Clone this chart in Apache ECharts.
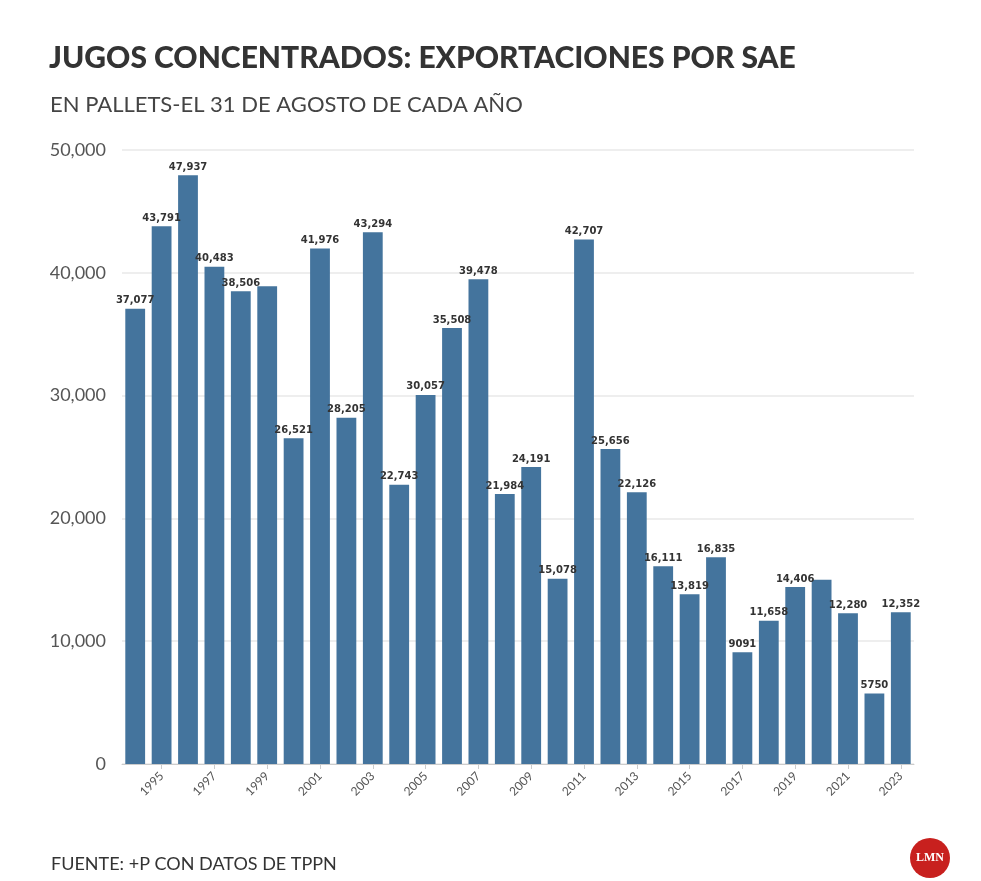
<!DOCTYPE html>
<html><head><meta charset="utf-8">
<script src="https://cdn.jsdelivr.net/npm/echarts@6/dist/echarts.min.js"></script>
<style>body{margin:0;background:#fff}#c{width:981px;height:881px}</style>
</head><body><div id="c"></div>
<script>
const years=[];for(let y=1994;y<=2023;y++)years.push(String(y));
const values=[37077,43791,47937,40483,38506,38900,26521,41976,28205,43294,22743,30057,35508,39478,21984,24191,15078,42707,25656,22126,16111,13819,16835,9091,11658,14406,15000,12280,5750,12352];
const hiddenLabels=['1999','2020'];
const fmt=v=>v<10000?String(v):v.toLocaleString('en-US');
const chart=echarts.init(document.getElementById('c'));
chart.setOption({
 animation:false,
 title:[
  {text:'JUGOS CONCENTRADOS: EXPORTACIONES POR SAE',left:44,top:38,textStyle:{fontFamily:'Lato',fontWeight:900,fontSize:30,color:'#333'}},
  {text:'EN PALLETS-EL 31 DE AGOSTO DE CADA AÑO',left:45,top:89,textStyle:{fontFamily:'Lato',fontWeight:'normal',fontSize:22,color:'#444'}},
  {text:'FUENTE: +P CON DATOS DE TPPN',left:46,top:850,textStyle:{fontFamily:'Lato',fontWeight:'normal',fontSize:18,color:'#333'}}
 ],
 graphic:[{type:'circle',shape:{cx:930,cy:858,r:20},style:{fill:'#c8201e'}},
  {type:'text',x:930,y:858,style:{text:'LMN',fill:'#fff',font:'bold 12px serif',align:'center',verticalAlign:'middle'}}],
 grid:{left:122,right:67,top:150,bottom:117},
 xAxis:{type:'category',data:years,
  axisLine:{lineStyle:{color:'#ccc'}},
  axisTick:{show:true,alignWithLabel:true,interval:(i)=>i%2===1,lineStyle:{color:'#ccc'}},
  axisLabel:{interval:(i)=>i%2===1,rotate:45,color:'#555',fontFamily:'Lato',fontSize:12,margin:10}},
 yAxis:{type:'value',min:0,max:50000,interval:10000,
  axisLabel:{formatter:v=>fmt(v),color:'#555',fontFamily:'Lato',fontSize:18,margin:16},
  splitLine:{lineStyle:{color:'#e8e8e8',width:1.5}},axisLine:{show:false},axisTick:{show:false}},
 series:[{type:'bar',barCategoryGap:'25%',
  data:values.map((v,i)=>({value:v,label:{show:!hiddenLabels.includes(years[i])}})),
  itemStyle:{color:'#44749d'},
  label:{position:'top',distance:3,formatter:p=>fmt(p.value),fontFamily:'DejaVu Sans',fontWeight:'bold',fontSize:10,color:'#333'}}]
});
</script></body></html>
